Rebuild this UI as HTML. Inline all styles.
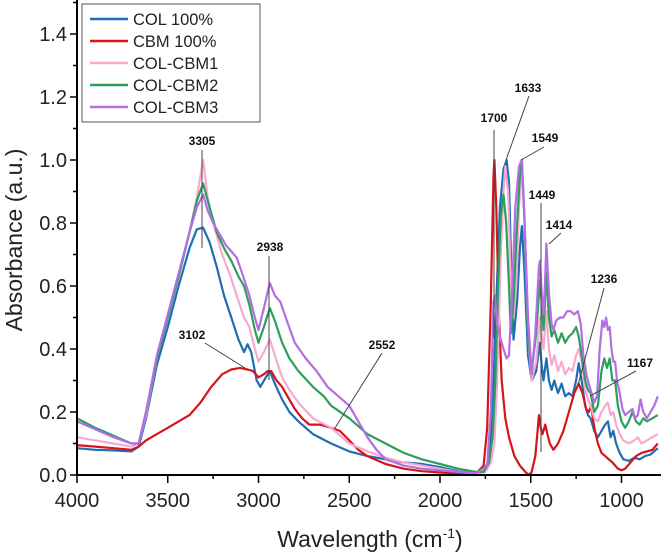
<!DOCTYPE html>
<html><head><meta charset="utf-8">
<style>
html,body{margin:0;padding:0;background:#fff;}
svg{display:block;font-family:"Liberation Sans",Arial,sans-serif;}
</style></head>
<body>
<svg id="chart" width="661" height="554" viewBox="0 0 661 554" xmlns="http://www.w3.org/2000/svg">
<g id="plot"></g>
<g id="axes"></g>
<g id="annots"></g>
<g id="legend"></g>
</svg>
<script>
const xTicks = [4000, 3500, 3000, 2500, 2000, 1500, 1000];
const yTicks = [0.0, 0.2, 0.4, 0.6, 0.8, 1.0, 1.2, 1.4];
const seriesNames = ["COL 100%", "CBM 100%", "COL-CBM1", "COL-CBM2", "COL-CBM3"];
const seriesColors = ["#1f6db3", "#d7141a", "#f7a9d0", "#2b9f5b", "#b26ee2"];

const dataCOL = [[4000,.085],[3900,.08],[3800,.078],[3700,.075],[3660,.09],[3620,.18],[3560,.35],[3500,.47],[3440,.6],[3380,.72],[3340,.78],[3305,.785],[3270,.74],[3230,.66],[3190,.57],[3150,.5],[3110,.43],[3080,.39],[3060,.415],[3040,.39],[3010,.3],[2990,.28],[2960,.31],[2938,.33],[2910,.29],[2870,.24],[2830,.2],[2780,.17],[2700,.13],[2600,.1],[2500,.075],[2400,.06],[2300,.05],[2200,.04],[2100,.035],[2000,.025],[1900,.012],[1800,.005],[1760,.01],[1730,.05],[1710,.2],[1690,.55],[1670,.85],[1650,.97],[1633,1.0],[1620,.93],[1605,.6],[1595,.43],[1575,.55],[1560,.72],[1549,.79],[1535,.65],[1515,.38],[1495,.3],[1470,.33],[1455,.4],[1449,.42],[1440,.35],[1430,.3],[1414,.37],[1400,.3],[1385,.27],[1370,.3],[1350,.26],[1330,.29],[1310,.25],[1290,.26],[1270,.25],[1250,.3],[1236,.355],[1220,.3],[1200,.22],[1185,.19],[1170,.18],[1150,.14],[1130,.12],[1110,.14],[1090,.16],[1075,.17],[1060,.12],[1045,.14],[1030,.1],[1010,.07],[990,.05],[960,.045],[930,.055],[900,.05],[870,.06],[840,.065],[800,.085]];
const dataCBM = [[4000,.095],[3900,.09],[3800,.085],[3700,.08],[3660,.09],[3620,.11],[3560,.13],[3500,.15],[3440,.17],[3380,.19],[3320,.23],[3260,.28],[3200,.32],[3150,.335],[3102,.34],[3060,.335],[3030,.33],[3000,.31],[2970,.32],[2950,.33],[2930,.33],[2900,.3],[2870,.28],[2840,.25],[2800,.21],[2760,.18],[2720,.16],[2660,.16],[2600,.15],[2552,.14],[2500,.11],[2450,.08],[2400,.06],[2300,.035],[2200,.02],[2100,.012],[2000,.008],[1900,.004],[1800,.005],[1760,.03],[1740,.15],[1720,.55],[1705,.95],[1700,1.0],[1690,.85],[1675,.5],[1660,.3],[1640,.18],[1620,.12],[1590,.06],[1560,.03],[1530,.01],[1510,0],[1495,.01],[1475,.06],[1462,.14],[1455,.19],[1445,.15],[1435,.13],[1420,.16],[1408,.13],[1395,.1],[1375,.08],[1350,.1],[1320,.14],[1290,.2],[1260,.26],[1236,.29],[1215,.26],[1195,.21],[1180,.2],[1167,.22],[1150,.15],[1130,.1],[1110,.07],[1090,.06],[1070,.05],[1050,.04],[1020,.02],[1000,.015],[980,.02],[950,.04],[920,.06],[890,.07],[860,.075],[830,.08],[800,.1]];
const dataCBM1 = [[4000,.12],[3900,.11],[3800,.1],[3700,.09],[3660,.1],[3620,.19],[3560,.37],[3500,.5],[3440,.63],[3380,.77],[3340,.88],[3305,1.0],[3280,.88],[3240,.78],[3200,.7],[3160,.64],[3120,.57],[3080,.5],[3050,.47],[3020,.4],[3000,.36],[2970,.39],[2938,.43],[2910,.38],[2870,.31],[2830,.27],[2780,.23],[2700,.18],[2600,.15],[2500,.1],[2400,.075],[2300,.055],[2200,.04],[2100,.03],[2000,.02],[1900,.01],[1800,.005],[1750,.01],[1720,.04],[1700,.1],[1685,.3],[1665,.7],[1650,.9],[1640,.98],[1625,.9],[1610,.62],[1595,.5],[1580,.6],[1565,.85],[1549,.98],[1535,.8],[1515,.45],[1495,.3],[1470,.36],[1449,.5],[1440,.45],[1430,.4],[1414,.52],[1400,.4],[1385,.35],[1370,.38],[1350,.33],[1330,.36],[1310,.32],[1290,.34],[1270,.33],[1250,.38],[1236,.4],[1220,.36],[1200,.27],[1185,.24],[1170,.22],[1150,.18],[1130,.17],[1110,.2],[1090,.22],[1075,.23],[1060,.19],[1045,.2],[1030,.16],[1010,.13],[990,.11],[960,.1],[930,.11],[910,.12],[890,.1],[860,.11],[830,.12],[800,.13]];
const dataCBM2 = [[4000,.18],[3900,.15],[3800,.125],[3700,.1],[3660,.1],[3620,.2],[3560,.37],[3500,.5],[3440,.63],[3380,.77],[3340,.87],[3305,.925],[3270,.85],[3230,.77],[3190,.72],[3150,.68],[3110,.63],[3080,.6],[3050,.54],[3020,.46],[3000,.42],[2970,.47],[2938,.53],[2910,.49],[2870,.42],[2830,.37],[2780,.33],[2700,.28],[2640,.25],[2600,.22],[2500,.18],[2400,.13],[2300,.1],[2200,.07],[2100,.05],[2000,.035],[1900,.02],[1800,.01],[1760,.01],[1730,.04],[1710,.12],[1695,.3],[1680,.6],[1665,.82],[1650,.89],[1635,.8],[1620,.6],[1610,.45],[1595,.55],[1575,.8],[1560,.95],[1549,1.0],[1535,.82],[1515,.45],[1495,.33],[1470,.45],[1449,.62],[1440,.55],[1430,.46],[1414,.64],[1400,.5],[1385,.44],[1370,.46],[1350,.42],[1330,.45],[1310,.42],[1290,.44],[1270,.45],[1250,.47],[1236,.44],[1220,.38],[1200,.3],[1185,.27],[1170,.26],[1150,.2],[1130,.22],[1110,.33],[1095,.37],[1080,.34],[1065,.37],[1050,.3],[1035,.3],[1020,.22],[1000,.17],[980,.15],[960,.17],[940,.2],[920,.17],[900,.16],[880,.18],[860,.17],[830,.18],[800,.19]];
const dataCBM3 = [[4000,.17],[3900,.145],[3800,.12],[3700,.1],[3660,.1],[3620,.2],[3560,.38],[3500,.51],[3440,.64],[3380,.77],[3340,.85],[3305,.89],[3280,.84],[3250,.8],[3210,.76],[3180,.73],[3150,.71],[3120,.69],[3090,.64],[3050,.57],[3020,.5],[3000,.46],[2970,.53],[2938,.61],[2910,.57],[2880,.55],[2850,.5],[2800,.42],[2740,.37],[2680,.33],[2620,.28],[2560,.25],[2500,.22],[2450,.17],[2400,.12],[2350,.08],[2300,.05],[2200,.03],[2100,.02],[2000,.015],[1900,.01],[1800,.005],[1740,.03],[1720,.2],[1705,.55],[1698,.57],[1685,.48],[1670,.44],[1650,.4],[1633,.37],[1620,.38],[1605,.55],[1585,.85],[1565,.98],[1549,1.0],[1535,.82],[1515,.5],[1495,.32],[1475,.45],[1455,.66],[1449,.68],[1440,.58],[1430,.51],[1422,.6],[1414,.735],[1400,.58],[1385,.48],[1375,.46],[1360,.49],[1340,.5],[1320,.5],[1300,.52],[1280,.52],[1260,.51],[1240,.52],[1225,.48],[1210,.38],[1190,.31],[1170,.27],[1150,.23],[1135,.25],[1120,.4],[1105,.49],[1095,.47],[1085,.5],[1075,.46],[1065,.47],[1055,.4],[1045,.36],[1035,.36],[1025,.3],[1010,.26],[995,.21],[980,.19],[960,.2],[940,.21],[925,.18],[910,.19],[895,.24],[880,.2],[860,.18],[840,.2],[820,.22],[800,.25]];
const annotLabels = ["3305","2938","3102","2552","1700","1633","1549","1449","1414","1236","1167"];
const annotPeakWn = [3305, 2938, 3102, 2552, 1700, 1633, 1549, 1449, 1414, 1236, 1167];

const NS = "http://www.w3.org/2000/svg";
const X0 = 77, XSCALE = 0.1815, Y0 = 475, YSCALE = 315;
function xs(w){ return X0 + (4000 - w) * XSCALE; }
function ys(v){ return Y0 - v * YSCALE; }
function mk(tag, attrs, parent){ const e = document.createElementNS(NS, tag); for (const k in attrs) e.setAttribute(k, attrs[k]); parent.appendChild(e); return e; }

const plot = document.getElementById('plot');
const allData = [dataCOL, dataCBM, dataCBM1, dataCBM2, dataCBM3];
const drawOrder = [0, 1, 2, 3, 4];
drawOrder.forEach(i => {
  const d = allData[i].map((p, j) => (j ? 'L' : 'M') + xs(p[0]).toFixed(1) + ' ' + ys(p[1]).toFixed(1)).join(' ');
  const path = mk('path', {d: d, fill: 'none', stroke: seriesColors[i], 'stroke-width': 2.2, 'stroke-linejoin': 'round'}, plot);
  
  
});

const axes = document.getElementById('axes');
const yAxisLine = mk('line', {x1: X0, y1: 0, x2: X0, y2: Y0 + 1, stroke: '#000', 'stroke-width': 2}, axes);


const xAxisLine = mk('line', {x1: X0 - 1, y1: Y0, x2: 661, y2: Y0, stroke: '#000', 'stroke-width': 2}, axes);


for (let v = 0; v <= 1.5001; v += 0.1) {
  const major = Math.round(v * 10) % 2 === 0;
  mk('line', {x1: X0 - (major ? 7 : 4), y1: ys(v), x2: X0, y2: ys(v), stroke: '#000', 'stroke-width': 1.5}, axes);
}
yTicks.forEach(v => {
  const t = mk('text', {x: 67, y: ys(v) + 7, 'text-anchor': 'end', 'font-size': 20, fill: '#222'}, axes);
  t.textContent = v.toFixed(1);
  
  
});
for (let w = 4000; w >= 800; w -= 250) {
  const major = w % 500 === 0;
  mk('line', {x1: xs(w), y1: Y0, x2: xs(w), y2: Y0 + (major ? 8 : 4), stroke: '#000', 'stroke-width': 1.5}, axes);
}
xTicks.forEach(w => {
  const t = mk('text', {x: xs(w), y: 507, 'text-anchor': 'middle', 'font-size': 20, fill: '#222'}, axes);
  t.textContent = w;
  
  
});
const xt = mk('text', {x: 370, y: 547, 'text-anchor': 'middle', 'font-size': 23, fill: '#222'}, axes);
xt.innerHTML = 'Wavelength (cm<tspan dy="-9" font-size="14">-1</tspan><tspan dy="9">)</tspan>';


const yt = mk('text', {x: 0, y: 0, 'text-anchor': 'middle', 'font-size': 23, fill: '#222', transform: 'translate(22,240) rotate(-90)'}, axes);
yt.textContent = 'Absorbance (a.u.)';



const annotLayout = [
  [202,145, 202,150, 202,248],
  [270,251, 269,256, 269,380],
  [192,339, 205,343, 245,368],
  [382,349, 382,353, 335,428],
  [494,122, 494,130, 494,338],
  [528,92, 529,96, 506,160],
  [545,142, 544,147, 521,160],
  [542,199, 541,203, 541,452],
  [559,229, 561,233, 549,244],
  [604,283, 604,288, 578,385],
  [640,367, 636,371, 590,396]
];
const annots = document.getElementById('annots');
annotLabels.forEach((lab, i) => {
  const L = annotLayout[i];
  const ln = mk('line', {x1: L[2], y1: L[3], x2: L[4], y2: L[5], stroke: '#444', 'stroke-width': 1}, annots);
  
  
  const t = mk('text', {x: L[0], y: L[1], 'text-anchor': 'middle', 'font-size': 12, 'font-weight': 'bold', fill: '#111'}, annots);
  t.textContent = lab;
  
  
});

const legend = document.getElementById('legend');
const box = mk('rect', {x: 82, y: 4, width: 178, height: 118, fill: '#fff', stroke: '#555', 'stroke-width': 1}, legend);


seriesNames.forEach((n, i) => {
  const y = 19 + i * 22;
  const ln = mk('line', {x1: 90, y1: y, x2: 128, y2: y, stroke: seriesColors[i], 'stroke-width': 2.5}, legend);
  
  
  const t = mk('text', {x: 133, y: y + 6, 'font-size': 16.5, fill: '#222'}, legend);
  t.textContent = n;
  
  
});
</script>
</body></html>
